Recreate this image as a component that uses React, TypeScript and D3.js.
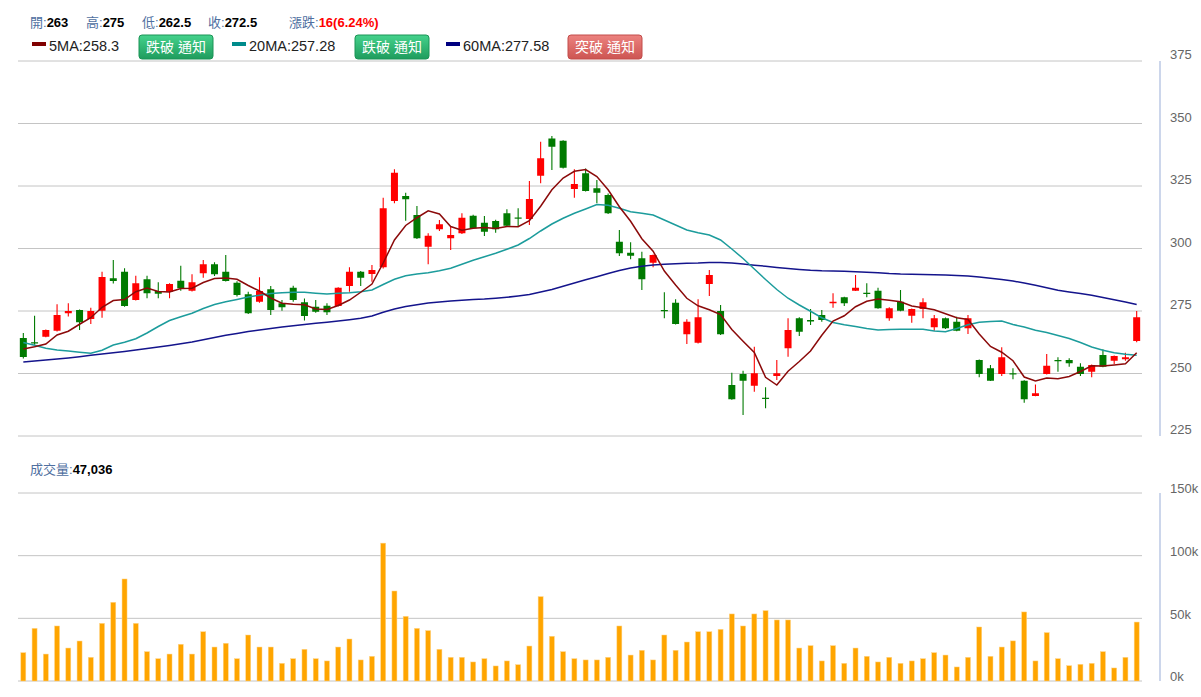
import React from 'react';
import * as d3 from 'd3';

// ---------- data ----------
const openP = [
  264.2, 262.5, 264.7, 267.1, 274.1, 275.4, 271.8, 275.1, 288.1, 290.7,
  279.4, 287.7, 283.0, 282.7, 287.1, 283.1, 290.1, 293.7, 290.7, 286.3,
  281.7, 278.7, 283.7, 278.1, 284.3, 278.5, 276.7, 277.1, 277.0, 285.0,
  290.7, 289.8, 292.5, 319.0, 321.0, 313.4, 300.7, 307.7, 304.1, 306.1,
  313.1, 310.3, 311.0, 314.1, 312.4, 311.8, 329.1, 344.0, 343.1, 323.8,
  330.1, 324.1, 321.4, 302.7, 298.3, 296.1, 294.3, 275.4, 278.3, 265.7,
  262.3, 285.8, 275.0, 245.4, 249.8, 245.1, 240.3, 249.0, 260.1, 272.1,
  271.4, 273.4, 278.1, 280.5, 283.1, 282.3, 283.1, 272.1, 278.7, 273.1,
  275.8, 268.5, 272.1, 270.7, 268.1, 255.4, 252.1, 249.8, 250.1, 247.1,
  241.0, 249.8, 255.4, 255.4, 252.7, 250.7, 257.4, 255.1, 255.7, 263.0,
];
const highP = [
  266.2, 273.1, 267.6, 277.7, 278.1, 275.6, 276.3, 290.7, 295.4, 292.1,
  289.1, 289.1, 286.5, 286.1, 293.1, 289.7, 295.4, 294.5, 297.4, 286.9,
  282.7, 288.5, 285.0, 279.4, 285.1, 280.0, 279.4, 278.1, 284.5, 292.5,
  291.0, 293.4, 320.3, 331.7, 322.3, 317.0, 306.1, 311.4, 308.7, 314.1,
  313.5, 313.0, 311.5, 315.7, 316.1, 327.0, 342.7, 345.0, 343.3, 331.7,
  332.0, 327.4, 322.0, 307.4, 302.5, 298.7, 297.6, 282.5, 279.7, 271.7,
  279.7, 291.4, 277.4, 250.3, 251.1, 260.7, 244.5, 255.4, 272.1, 272.5,
  275.8, 275.4, 282.1, 280.7, 289.4, 286.1, 284.3, 276.5, 283.4, 276.0,
  280.1, 273.4, 272.4, 272.7, 273.4, 255.6, 253.4, 260.5, 252.1, 247.3,
  245.6, 257.8, 256.5, 256.1, 254.1, 253.6, 259.7, 257.2, 258.3, 275.0,
];
const lowP = [
  256.0, 261.5, 264.5, 266.8, 272.8, 267.4, 269.8, 272.3, 286.0, 276.7,
  279.2, 280.1, 280.1, 280.1, 283.1, 282.8, 288.3, 289.0, 286.8, 280.8,
  273.8, 278.3, 273.4, 275.1, 278.7, 271.2, 274.3, 273.4, 276.8, 282.7,
  285.0, 286.7, 292.0, 318.1, 311.1, 303.8, 293.7, 307.0, 299.4, 305.8,
  307.8, 305.0, 306.3, 308.8, 309.0, 309.4, 326.1, 331.4, 332.0, 320.3,
  322.8, 318.1, 313.8, 297.0, 295.7, 283.4, 292.5, 272.1, 269.6, 261.8,
  262.0, 281.0, 265.4, 239.5, 233.4, 242.7, 236.1, 247.4, 256.7, 265.0,
  269.4, 270.7, 276.3, 277.0, 283.0, 280.5, 275.9, 271.1, 274.9, 270.3,
  272.1, 267.1, 267.8, 266.9, 265.8, 248.5, 247.0, 249.0, 247.7, 238.3,
  240.9, 249.6, 250.7, 252.7, 249.0, 248.5, 252.5, 253.8, 255.1, 262.5,
];
const closeP = [
  256.6, 262.0, 267.4, 273.4, 275.0, 270.5, 275.0, 288.6, 287.0, 277.0,
  286.1, 282.1, 281.9, 285.8, 284.1, 286.5, 293.7, 289.7, 287.0, 281.4,
  274.1, 283.0, 275.4, 276.5, 279.4, 273.0, 274.7, 274.5, 284.3, 290.7,
  288.3, 291.4, 316.1, 330.3, 319.7, 304.1, 305.1, 309.7, 305.4, 312.3,
  308.1, 306.7, 307.7, 309.1, 312.0, 319.8, 336.1, 340.7, 332.3, 325.8,
  323.0, 322.3, 314.1, 298.1, 297.1, 287.7, 297.4, 274.9, 269.8, 270.7,
  272.5, 289.4, 265.7, 239.7, 247.1, 250.1, 239.9, 250.1, 267.4, 266.7,
  270.8, 271.4, 278.7, 278.1, 284.3, 281.8, 276.1, 276.1, 275.1, 275.8,
  278.5, 272.1, 268.1, 267.1, 272.1, 249.8, 247.1, 256.5, 249.8, 239.7,
  242.1, 253.1, 254.9, 254.1, 249.8, 253.4, 252.7, 257.0, 256.5, 272.5,
];
// volume in thousands
const volumeK = [
  22.6, 42.0, 21.5, 43.9, 26.3, 31.9, 18.9, 46.0, 62.8, 81.4,
  46.0, 23.4, 17.8, 21.5, 29.3, 21.5, 39.3, 27.1, 30.1, 17.8,
  36.7, 27.1, 27.1, 14.1, 17.8, 25.3, 17.8, 16.0, 27.1, 33.5,
  16.8, 19.7, 110.0, 71.8, 51.6, 42.0, 40.2, 25.3, 18.9, 18.9,
  15.2, 17.8, 12.0, 16.0, 13.0, 27.9, 67.3, 35.7, 23.4, 17.8,
  16.8, 16.8, 18.9, 43.9, 20.7, 24.5, 16.8, 36.7, 24.5, 31.1,
  39.3, 39.3, 41.2, 53.5, 43.9, 53.5, 56.1, 48.7, 48.7, 26.3,
  28.2, 16.0, 28.2, 14.1, 26.3, 19.7, 15.2, 18.9, 14.1, 16.0,
  17.8, 22.6, 20.7, 11.2, 18.9, 43.1, 19.7, 27.1, 32.0, 55.1,
  16.0, 38.6, 17.8, 12.2, 13.3, 14.1, 23.4, 10.4, 18.9, 47.036,
];
const ma5 = [
  259.8, 260.7, 261.8, 265.4, 266.9, 269.7, 272.3, 276.5, 279.2, 279.6,
  282.7, 284.2, 282.8, 282.6, 284.0, 284.1, 286.4, 288.0, 288.2, 287.7,
  285.2, 283.0, 280.2, 278.1, 277.7, 277.5, 275.8, 275.6, 277.2, 279.4,
  282.5, 285.8, 294.2, 303.4, 309.2, 312.3, 315.1, 313.8, 308.8, 307.3,
  308.1, 308.4, 308.0, 308.8, 308.7, 311.1, 316.9, 323.5, 328.2, 330.9,
  331.6, 328.8, 323.5, 316.7, 310.9, 303.9, 298.9, 291.0, 285.4, 280.1,
  277.1, 275.5, 273.6, 267.6, 262.9, 258.4, 248.5, 245.4, 250.9, 254.8,
  259.0, 265.3, 271.0, 273.1, 276.7, 278.9, 279.8, 279.3, 278.7, 277.0,
  276.3, 275.5, 273.9, 272.3, 271.6, 265.8, 260.8, 258.5, 255.1, 248.6,
  247.0, 248.2, 247.9, 248.8, 250.8, 253.1, 253.0, 253.4, 253.9, 258.3,
];
const ma20 = [
  262.4, 261.3, 260.1, 259.4, 259.0, 258.5, 258.1, 259.3, 261.4, 262.5,
  263.9, 266.2, 268.8, 271.2, 272.7, 274.1, 276.0, 277.6, 278.7, 279.6,
  280.6, 281.3, 282.0, 282.3, 282.5, 282.5, 282.1, 281.8, 282.1, 282.3,
  282.7, 283.4, 285.6, 287.7, 289.1, 289.8, 290.3, 291.1, 292.1, 293.7,
  295.3, 296.7, 298.1, 299.7, 301.4, 304.0, 307.0, 309.8, 312.1, 314.1,
  315.8, 317.6, 317.3, 316.1, 314.7, 314.1, 313.4, 311.4, 309.4, 307.4,
  306.3, 305.4, 303.4, 299.8, 296.0, 291.8, 287.6, 283.6, 280.1, 277.4,
  274.9, 272.3, 270.4, 269.5, 268.8, 268.0, 267.4, 267.6, 267.7, 267.7,
  267.7, 267.0, 266.7, 268.0, 269.5, 270.5, 270.8, 271.0, 269.6, 268.6,
  267.3, 266.4, 265.2, 264.0, 262.4, 260.6, 259.3, 258.3, 257.7, 257.28,
];
const ma60 = [
  254.6, 255.0, 255.4, 255.8, 256.2, 256.7, 257.3, 257.8, 258.3, 258.8,
  259.4, 260.0, 260.6, 261.2, 261.9, 262.6, 263.5, 264.4, 265.3, 266.0,
  266.8, 267.4, 268.0, 268.6, 269.1, 269.6, 270.1, 270.5, 271.0, 271.5,
  272.1, 273.0, 274.5, 275.8, 276.8, 277.5, 278.2, 278.6, 279.0, 279.3,
  279.6, 279.8, 280.1, 280.5, 281.0, 281.6, 282.6, 283.6, 284.9, 286.2,
  287.5, 288.7, 290.0, 291.2, 292.2, 292.9, 293.4, 293.7, 293.9, 294.1,
  294.2, 294.4, 294.4, 294.2, 293.8, 293.3, 292.9, 292.4, 292.0, 291.6,
  291.3, 291.1, 291.0, 290.9, 290.7, 290.5, 290.3, 290.0, 289.8, 289.7,
  289.6, 289.5, 289.4, 289.2, 289.0, 288.6, 288.1, 287.6, 287.0, 286.2,
  285.3, 284.3, 283.3, 282.6, 282.0, 281.3, 280.4, 279.5, 278.6, 277.58,
];
const priceTicks = [225, 250, 275, 300, 325, 350, 375];
const volumeTicks = [0, 50, 100, 150];
const volumeTickLabels = ['0k', '50k', '100k', '150k'];

const FONT = '"Liberation Sans", Arial, "Noto Sans CJK TC", sans-serif';
const LABEL_BLUE = '#4f6f9f';
const RED = '#ff0000';
const GREEN = '#007a00';

function Button({ x, y, text, kind }: { x: number; y: number; text: string; kind: 'g' | 'r' }) {
  const w = 74, h = 24;
  return (
    <g>
      <rect x={x} y={y} width={w} height={h} rx={3} fill={`url(#btn-${kind})`} stroke={kind === 'g' ? '#1b9456' : '#c24c4a'} strokeWidth={1} />
      <text x={x + w / 2} y={y + h / 2 + 1} textAnchor="middle" dominantBaseline="middle" fill="#ffffff" fontSize={14} fontFamily={FONT}>{text}</text>
    </g>
  );
}

export default function App() {
  const W = 1201, H = 697;
  const n = closeP.length;
  const idx = d3.range(n);
  const x = d3.scaleBand<number>().domain(idx).range([17.7, 1142.3]).padding(0);
  const cx = (i: number) => (x(i) as number) + x.bandwidth() / 2;
  const yP = d3.scaleLinear().domain([225, 375]).range([436, 61]);
  const yV = d3.scaleLinear().domain([0, 150]).range([681, 493]);
  const gridX0 = 18, gridX1 = 1142;
  const bodyW = 7;
  const volW = 5;

  const lineGen = (arr: number[]) =>
    d3.line<number>().x((_, i) => cx(i)).y((v) => yP(v))(arr) || '';

  return (
    <svg width={W} height={H} style={{ position: 'absolute', left: 0, top: 0, background: '#fff' }} fontFamily={FONT}>
      <defs>
        <linearGradient id="btn-g" x1="0" y1="0" x2="0" y2="1">
          <stop offset="0" stopColor="#45d28c" />
          <stop offset="1" stopColor="#1f9c5d" />
        </linearGradient>
        <linearGradient id="btn-r" x1="0" y1="0" x2="0" y2="1">
          <stop offset="0" stopColor="#ec827f" />
          <stop offset="1" stopColor="#cd5552" />
        </linearGradient>
      </defs>
      <rect x={0} y={0} width={W} height={H} fill="#fff" />

      {/* header row 1 */}
      <text y={27} fontSize={13}>
        <tspan x={30} fill={LABEL_BLUE}>開:</tspan><tspan fontWeight="bold" fill="#000">263</tspan>
        <tspan x={86} fill={LABEL_BLUE}>高:</tspan><tspan fontWeight="bold" fill="#000">275</tspan>
        <tspan x={142} fill={LABEL_BLUE}>低:</tspan><tspan fontWeight="bold" fill="#000">262.5</tspan>
        <tspan x={208} fill={LABEL_BLUE}>收:</tspan><tspan fontWeight="bold" fill="#000">272.5</tspan>
        <tspan x={289} fill={LABEL_BLUE}>漲跌:</tspan><tspan fontWeight="bold" fill={RED}>16(6.24%)</tspan>
      </text>

      {/* header row 2: legend */}
      <rect x={32} y={42} width={14} height={4} fill="#800000" />
      <text x={49} y={51} fontSize={14.5} fill="#222">5MA:258.3</text>
      <Button x={139} y={35} text="跌破 通知" kind="g" />
      <rect x={232} y={42} width={14} height={4} fill="#008b8b" />
      <text x={249} y={51} fontSize={14.5} fill="#222">20MA:257.28</text>
      <Button x={355} y={35} text="跌破 通知" kind="g" />
      <rect x={446} y={42} width={14} height={4} fill="#000080" />
      <text x={463} y={51} fontSize={14.5} fill="#222">60MA:277.58</text>
      <Button x={568} y={35} text="突破 通知" kind="r" />

      {/* price grid */}
      {priceTicks.map((t) => (
        <g key={'pt' + t}>
          <line x1={gridX0} x2={gridX1} y1={yP(t)} y2={yP(t)} stroke="#c4c4c4" strokeWidth={1} />
          <text x={1170} y={yP(t) - 5} dominantBaseline="middle" fontSize={13} fill="#666">{t}</text>
        </g>
      ))}
      <line x1={1160} x2={1160} y1={yP(375)} y2={yP(225)} stroke="#ccd6eb" strokeWidth={2} />

      {/* candles */}
      {idx.map((i) => {
        const o = openP[i], c = closeP[i];
        const up = c >= o;
        const col = up ? RED : GREEN;
        const top = yP(Math.max(o, c));
        const bot = yP(Math.min(o, c));
        const hgt = Math.max(1.2, bot - top);
        return (
          <g key={'c' + i}>
            <line x1={cx(i)} x2={cx(i)} y1={yP(highP[i])} y2={yP(lowP[i])} stroke={col} strokeWidth={1.1} />
            <rect x={cx(i) - bodyW / 2} y={top} width={bodyW} height={hgt} fill={col} />
          </g>
        );
      })}

      {/* moving averages */}
      <path d={lineGen(ma60)} fill="none" stroke="#14148c" strokeWidth={1.5} />
      <path d={lineGen(ma20)} fill="none" stroke="#1c9c9c" strokeWidth={1.5} />
      <path d={lineGen(ma5)} fill="none" stroke="#8b0a0a" strokeWidth={1.5} />

      {/* volume header */}
      <text y={474} fontSize={13}>
        <tspan x={30} fill={LABEL_BLUE}>成交量:</tspan><tspan fontWeight="bold" fill="#000">47,036</tspan>
      </text>

      {/* volume grid */}
      {volumeTicks.map((t, k) => (
        <g key={'vt' + t}>
          <line x1={gridX0} x2={gridX1} y1={yV(t)} y2={yV(t)} stroke="#c4c4c4" strokeWidth={1} />
          <text x={1170} y={yV(t) - 3} dominantBaseline="middle" fontSize={13} fill="#666">{volumeTickLabels[k]}</text>
        </g>
      ))}
      <line x1={1160} x2={1160} y1={yV(150)} y2={yV(0)} stroke="#ccd6eb" strokeWidth={2} />

      {/* volume bars */}
      {idx.map((i) => (
        <rect key={'v' + i} x={cx(i) - volW / 2} y={yV(volumeK[i])} width={volW} height={yV(0) - yV(volumeK[i])}
          fill="#ffa500" stroke="#ffd58a" strokeWidth={0.5} />
      ))}
    </svg>
  );
}
